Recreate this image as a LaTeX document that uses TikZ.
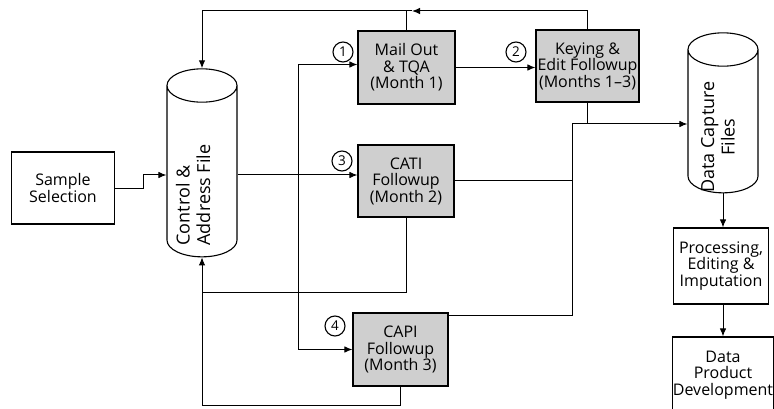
\documentclass[tikz,border=0pt]{standalone}
\usepackage{fontspec}
\setmainfont{Open Sans}
\usetikzlibrary{
arrows.meta,
positioning,
shapes.geometric
}
\definecolor{boxgray}{HTML}{CFCFCF}

\begin{document}
\begin{tikzpicture}[
x=1pt, y=-1pt,
font=\fontsize{16}{16.5}\selectfont,
box/.style={
rectangle,
draw,
line width=1.1pt,
fill=boxgray,
minimum width=97pt,
minimum height=73pt,
inner sep=0pt,
align=center
},
plainbox/.style={box, fill=white},
store/.style={
cylinder,
shape border rotate=90,
draw,
line width=1.1pt,
minimum width=70pt,
aspect=5
},
storetext/.style={rotate=90, font=\fontsize{18}{20.5}\selectfont},
num/.style={
circle,
draw,
line width=1.1pt,
inner sep=0pt,
minimum size=20pt,
font=\fontsize{13.5}{13.5}\selectfont
},
arrow/.style={-{Latex[length=8pt,width=6.5pt]},line width=1pt},
line/.style={line width=1pt}
]
\useasboundingbox (0,0) rectangle (774,409);

\node[plainbox, minimum width=103pt, minimum height=72pt] (sample) at (63,188)
{Sample\\Selection};

\node[store, minimum height=188pt] (ctrl) at (202,175) {};
\node[storetext, align=left] (ctrltext) at (193,195) {Control \&\\Address File};

\node[box] (mail) at (406.5,67.5) {Mail Out\\\& TQA\\(Month 1)};
\node[box, minimum width=103pt, minimum height=72pt] (keying) at (587.5,66)
{Keying \&\\Edit Followup\\(Months 1--3)};
\node[box, minimum width=96pt, minimum height=72pt] (cati) at (406,181)
{CATI\\Followup\\(Month 2)};
\node[box, minimum width=95pt] (capi) at (400.5,349.5)
{CAPI\\Followup\\(Month 3)};

\node[num] (n1) at (343,52) {1};
\node[num] (n2) at (516,52) {2};
\node[num] (n3) at (342,161) {3};
\node[num] (n4) at (335,326) {4};

\node[store, minimum height=160pt] (dcap) at (723,125) {};
\node[storetext, align=center] (dcaptext) at (718,137) {Data Capture\\Files};

\node[plainbox, minimum width=95pt, minimum height=76pt] (proc) at (721,266)
{Processing,\\Editing \&\\Imputation};
\node[plainbox, minimum width=100pt, minimum height=76pt] (dpd) at (723,375)
{Data\\Product\\Development};

% junctions
\coordinate (split) at (298,175);
\coordinate (topturn) at (412,11);
\coordinate (merge) at (572,124);
\coordinate (catiret) at (202,292);
\coordinate (botturn) at (202,405);

\draw[arrow] (sample.east) -- ++(28,0) |- (ctrl.west);
\draw[arrow] (ctrl.east) -- (cati.west |- ctrl.east);
\draw[arrow] (split) |- ([yshift=3pt]mail.west);
\draw[arrow] (split) |- (capi.west);
\draw[arrow] (mail.east) -- (mail.east -| keying.west);

\draw[arrow] (keying.north) |- (topturn);
\draw[arrow] (topturn) -| (ctrl.north);
\draw[line] (mail.north) -- (mail.north |- topturn);

\draw[line] (cati.east) -| (merge);
\draw[line] ([yshift=-3pt]capi.north east) -| (merge);
\draw[line] (keying.south) |- (merge);
\draw[arrow] (merge) -- (dcap.west |- merge);

\draw[line] (cati.south) |- (catiret);
\draw[arrow] (capi.south) |- (botturn) -- (ctrl.south);

\draw[arrow] (dcap.south) -- (dcap.south |- proc.north);
\draw[arrow] (proc.south -| dpd.north) -- (dpd.north);

\end{tikzpicture}
\end{document}
